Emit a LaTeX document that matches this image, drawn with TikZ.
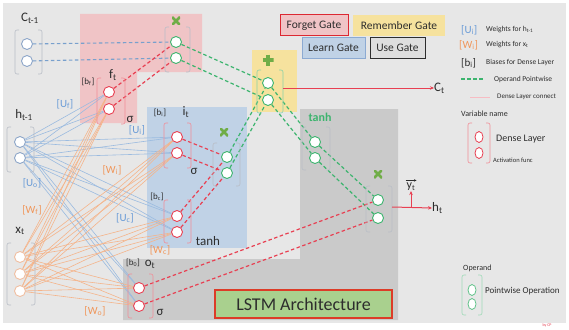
\documentclass[tikz,border=0pt]{standalone}
\usepackage{fontspec}
\setmainfont{Carlito}
\usetikzlibrary{arrows.meta,shapes.geometric}
\definecolor{bgc}{RGB}{231,231,231}
\definecolor{forgetfill}{RGB}{240,196,198}
\definecolor{remfill}{RGB}{246,226,158}
\definecolor{learnfill}{RGB}{192,210,230}
\definecolor{usefill}{RGB}{202,202,202}
\definecolor{redl}{RGB}{232,64,82}
\definecolor{greenl}{RGB}{60,180,110}
\definecolor{bluedash}{RGB}{120,160,205}
\definecolor{multc}{RGB}{112,173,71}
\definecolor{wblue}{RGB}{105,155,215}
\definecolor{worange}{RGB}{240,150,90}
\definecolor{thinblue}{RGB}{155,187,224}
\definecolor{thinorange}{RGB}{245,180,138}
\definecolor{txt}{RGB}{45,45,45}
\definecolor{brkgray}{RGB}{185,190,198}
\definecolor{circblue}{RGB}{140,165,200}
\definecolor{circorange}{RGB}{240,190,160}
\definecolor{lstmfill}{RGB}{169,208,142}
\definecolor{lstmborder}{RGB}{220,60,40}
\definecolor{forgetborder}{RGB}{220,40,50}
\definecolor{learnborder}{RGB}{140,170,210}
\definecolor{usebox}{RGB}{222,222,222}
\pgfdeclarelayer{back}
\pgfsetlayers{back,main}
\newcommand{\mybrk}[5]{%
  \draw[#5,line width=0.6pt,rounded corners=2pt] (#1+4,#3) -- (#1,#3) -- (#1,#4) -- (#1+4,#4);
  \draw[#5,line width=0.6pt,rounded corners=2pt] (#2-4,#3) -- (#2,#3) -- (#2,#4) -- (#2-4,#4);}
\begin{document}
\begin{tikzpicture}[x=1pt,y=-1pt,
  dc/.style={circle,draw=#1,fill=white,line width=0.9pt,minimum size=11pt,inner sep=0pt},
  lgc/.style={ellipse,draw=#1,fill=white,line width=0.8pt,minimum width=8pt,minimum height=11pt,inner sep=0pt},
  lbl/.style={inner sep=0pt,text=txt,font=\fontsize{13}{14}\selectfont},
  sml/.style={inner sep=0pt,text=txt,font=\fontsize{9}{10}\selectfont},
  wl/.style={inner sep=0pt,font=\fontsize{11}{12}\selectfont},
  leg/.style={inner sep=0pt,text=txt,anchor=west,font=\fontsize{7.5}{8}\selectfont},
  gatebox/.style={inner sep=0pt,text=txt,font=\fontsize{11.5}{12}\selectfont},
  multsym/.style={minimum size=8pt,inner sep=0pt,path picture={\draw[line width=2.6pt,multc]
      (path picture bounding box.north west) -- (path picture bounding box.south east)
      (path picture bounding box.north east) -- (path picture bounding box.south west);}},
  plussym/.style={minimum size=11pt,inner sep=0pt,path picture={\draw[line width=3.2pt,multc]
      (path picture bounding box.north) -- (path picture bounding box.south)
      (path picture bounding box.west) -- (path picture bounding box.east);}},
  reddash/.style={redl,line width=1.2pt,dash pattern=on 3.5pt off 2.5pt},
  greendash/.style={greenl,line width=1.2pt,dash pattern=on 3.5pt off 2.5pt},
  bluedashl/.style={bluedash,line width=1.1pt,dash pattern=on 3.5pt off 2.5pt},
  thinb/.style={thinblue,line width=0.6pt},
  thino/.style={thinorange,line width=0.6pt},
  redarrow/.style={redl,line width=1pt,-{Stealth[length=4pt,width=3.5pt]}}
]
\useasboundingbox (0,0) rectangle (569,329);

% ---------- circles ----------
\node[dc=circblue] (c1) at (27,44) {};
\node[dc=circblue] (c2) at (27,61) {};
\node[dc=greenl] (fm1) at (176,42) {};
\node[dc=greenl] (fm2) at (176,58) {};
\node[dc=redl] (f1) at (109,92) {};
\node[dc=redl] (f2) at (109,109) {};
\node[dc=greenl] (a1) at (268,83) {};
\node[dc=greenl] (a2) at (268,100) {};
\node[dc=redl] (i1) at (177,137) {};
\node[dc=redl] (i2) at (177,153) {};
\node[dc=redl] (g1) at (177,216) {};
\node[dc=redl] (g2) at (177,232) {};
\node[dc=greenl] (lm1) at (227,157) {};
\node[dc=greenl] (lm2) at (227,173) {};
\node[dc=greenl] (t1) at (315,142) {};
\node[dc=greenl] (t2) at (315,158) {};
\node[dc=redl] (o1) at (139,288) {};
\node[dc=redl] (o2) at (139,306) {};
\node[dc=greenl] (um1) at (378,200) {};
\node[dc=greenl] (um2) at (378,218) {};
\node[dc=circblue] (h1) at (20,142) {};
\node[dc=circblue] (h2) at (20,158) {};
\node[dc=circorange] (x1) at (20,257) {};
\node[dc=circorange] (x2) at (20,274) {};
\node[dc=circorange] (x3) at (20,291) {};

% ---------- background layer ----------
\begin{pgfonlayer}{back}
\fill[white] (0,0) rectangle (569,329);
\fill[bgc] (3,3) rectangle (566,323);
\fill[forgetfill] (80,14) -- (202,14) -- (202,72) -- (137,72) -- (137,123) -- (80,123) -- cycle;
\fill[remfill] (252,50) rectangle (297,112);
\fill[learnfill] (147,107) rectangle (247,248);
\fill[usefill] (300,109) -- (398,109) -- (398,320) -- (123,320) -- (123,259) -- (300,259) -- cycle;
\foreach \s in {h1,h2}
  \foreach \t in {f1,f2,i1,i2,g1,g2,o1,o2}
    \draw[thinb] (\s) -- (\t);
\foreach \s in {x1,x2,x3}
  \foreach \t in {f1,f2,i1,i2,g1,g2,o1,o2}
    \draw[thino] (\s) -- (\t);
\end{pgfonlayer}

% ---------- dashed connectors ----------
\draw[bluedashl] (c1) -- (fm1);
\draw[bluedashl] (c2) -- (fm2);
\draw[reddash] (f1) -- (fm1);
\draw[reddash] (f2) -- (fm2);
\draw[greendash] (fm1) -- (a1);
\draw[greendash] (fm2) -- (a2);
\draw[reddash] (i1) -- (lm1);
\draw[reddash] (i2) -- (lm2);
\draw[reddash] (g1) -- (lm1);
\draw[reddash] (g2) -- (lm2);
\draw[greendash] (lm1) -- (a1);
\draw[greendash] (lm2) -- (a2);
\draw[greendash] (a1) -- (t1);
\draw[greendash] (a2) -- (t2);
\draw[greendash] (t1) -- (um1);
\draw[greendash] (t2) -- (um2);
\draw[reddash] (o1) -- (um1);
\draw[reddash] (o2) -- (um2);

% ---------- brackets ----------
\mybrk{15}{42}{30}{74}{brkgray}
\mybrk{165}{190}{27}{72}{brkgray}
\mybrk{97}{125}{78}{124}{redl!60}
\mybrk{257}{283}{70}{113}{greenl!60}
\mybrk{164}{191}{123}{168}{redl!60}
\mybrk{164}{191}{200}{243}{redl!60}
\mybrk{213}{240}{143}{186}{brkgray}
\mybrk{302}{330}{127}{170}{brkgray}
\mybrk{128}{153}{274}{318}{redl!60}
\mybrk{366}{392}{186}{232}{brkgray}
\mybrk{7}{34}{127}{172}{brkgray}
\mybrk{7}{35}{243}{305}{brkgray}

% ---------- operation symbols ----------
\node[multsym] (fmx) at (176,21) {};
\node[plussym] (addp) at (268,60) {};
\node[multsym] (lmx) at (224,132) {};
\node[multsym] (umx) at (378,174) {};

% ---------- outputs ----------
\coordinate (aout) at (283,88);
\node[lbl,anchor=west] (Ct) at (434,88) {C\textsubscript{t}};
\draw[redarrow] (aout) -- (Ct.west);
\coordinate (uout) at (392,207);
\coordinate (ybr) at (411,207);
\node[lbl,anchor=west] (ht) at (432,208) {h\textsubscript{t}};
\draw[redarrow] (uout) -- (ht.west);
\node[inner sep=0pt,text=txt,font=\fontsize{12}{13}\selectfont] (yt) at (411,187) {y\textsubscript{t}};
\coordinate (yva) at ([xshift=-1pt,yshift=2.5pt]yt.north west);
\coordinate (yvb) at ([xshift=1pt,yshift=2.5pt]yt.north east);
\draw[txt,line width=0.6pt,-{Stealth[length=2.5pt,width=2.5pt]}] (yva) -- (yvb);
\draw[redarrow] (ybr) -- (yt.south);

% ---------- variable labels ----------
\node[lbl] (lCt1) at (30,18) {C\textsubscript{t-1}};
\node[lbl] (lht1) at (24,115) {h\textsubscript{t-1}};
\node[lbl] (lxt) at (20,231) {x\textsubscript{t}};
\node[lbl] (lft) at (113,75) {f\textsubscript{t}};
\node[sml] (lbf) at (88,82) {[b\textsubscript{f}]};
\node[lbl] (sigf) at (130,119) {σ};
\node[lbl] (lit) at (186,112) {i\textsubscript{t}};
\node[sml] (lbi) at (160,113) {[b\textsubscript{i}]};
\node[lbl] (sigi) at (194,171) {σ};
\node[sml] (lbc) at (157,197) {[b\textsubscript{c}]};
\node[lbl] (ltanh1) at (208,241) {tanh};
\node[sml] (lbo) at (133,263) {[b\textsubscript{0}]};
\node[lbl] (lot) at (150,264) {o\textsubscript{t}};
\node[lbl] (sigo) at (160,312) {σ};
\node[lbl,text=greenl,font=\bfseries\fontsize{12}{13}\selectfont] (ltanh2) at (320,117) {tanh};

% ---------- weight labels ----------
\node[wl,text=wblue] (uf) at (65,104) {[U\textsubscript{f}]};
\node[wl,text=wblue] (ui) at (137,130) {[U\textsubscript{i}]};
\node[wl,text=wblue] (uo) at (32,183) {[U\textsubscript{o}]};
\node[wl,text=worange] (wi) at (112,170) {[W\textsubscript{i}]};
\node[wl,text=worange] (wf) at (32,210) {[W\textsubscript{f}]};
\node[wl,text=wblue] (uc) at (125,218) {[U\textsubscript{c}]};
\node[wl,text=worange] (wc) at (160,250) {[W\textsubscript{c}]};
\node[wl,text=worange] (wo) at (95,311) {[W\textsubscript{o}]};

% ---------- gate legend boxes ----------
\node[gatebox,draw=forgetborder,line width=1pt,fill=forgetfill,minimum width=68pt,minimum height=21pt] (gforget) at (314,25.5) {Forget Gate};
\node[gatebox,fill=remfill,minimum width=92pt,minimum height=21pt] (grem) at (399,25.5) {Remember Gate};
\node[gatebox,draw=learnborder,line width=1pt,fill=learnfill,minimum width=63pt,minimum height=20pt] (glearn) at (333.5,48) {Learn Gate};
\node[gatebox,draw=txt,line width=1pt,fill=usebox,minimum width=55pt,minimum height=20pt] (guse) at (397.5,48) {Use Gate};

% ---------- right legend ----------
\node[wl,text=wblue,anchor=west] (lgu) at (461,30) {[U\textsubscript{i}]};
\node[leg] (lgut) at (486,30) {Weights for h\textsubscript{t-1}};
\node[wl,text=worange,anchor=west] (lgw) at (459,45) {[W\textsubscript{i}]};
\node[leg] (lgwt) at (486,45) {Weights for x\textsubscript{t}};
\node[wl,text=txt,anchor=west] (lgb) at (461,63) {[b\textsubscript{i}]};
\node[leg] (lgbt) at (486,63) {Biases for Dense Layer};
\coordinate (lgd1) at (461,79);
\coordinate (lgd2) at (483,79);
\draw[greendash] (lgd1) -- (lgd2);
\node[leg] (lgdt) at (494,79) {Operand Pointwise};
\coordinate (lgp1) at (470,97);
\coordinate (lgp2) at (490,97);
\draw[redl!35,line width=0.8pt] (lgp1) -- (lgp2);
\node[leg,font=\fontsize{7}{8}\selectfont] (lgpt) at (497,97) {Dense Layer connect};
\node[leg,font=\fontsize{8}{9}\selectfont] (lgvar) at (461,114) {Variable name};
\mybrk{468}{490}{123}{163}{redl!60}
\node[lgc=redl] (lgc1) at (479,137) {};
\node[lgc=redl] (lgc2) at (479,153) {};
\node[leg,font=\fontsize{10}{11}\selectfont] (lgdl) at (496,139) {Dense Layer};
\node[leg,font=\fontsize{6.5}{7}\selectfont] (lgaf) at (493,160) {Activation func};
\node[leg,font=\fontsize{8}{9}\selectfont] (lgop) at (463,268) {Operand};
\mybrk{462}{482}{275}{315}{greenl!50}
\node[lgc=greenl!80] (lgo1) at (472,290) {};
\node[lgc=greenl!80] (lgo2) at (472,304) {};
\node[leg,font=\fontsize{9}{10}\selectfont] (lgpo) at (485,291) {Pointwise Operation};
\node[inner sep=0pt,text=redl,font=\fontsize{4}{5}\selectfont] (bycp) at (547,325) {by CP};

% ---------- title ----------
\node[draw=lstmborder,line width=1.2pt,fill=lstmfill,minimum width=177pt,minimum height=28pt,inner sep=0pt,text=txt,font=\fontsize{18}{20}\selectfont] (title) at (303.5,304) {LSTM Architecture};
\end{tikzpicture}
\end{document}
